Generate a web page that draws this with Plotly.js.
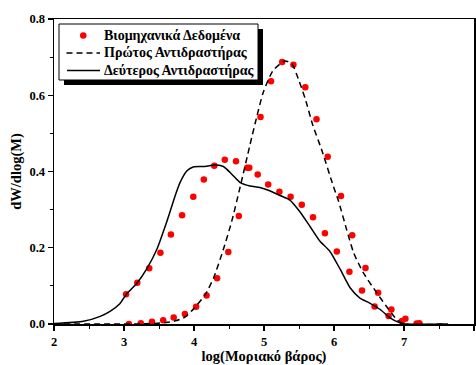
<!DOCTYPE html>
<html>
<head>
<meta charset="utf-8">
<script src="https://cdn.plot.ly/plotly-3.0.1.min.js"></script>
<style>html,body{margin:0;padding:0;background:#fff;}#chart{width:476px;height:365px;}</style>
</head>
<body>
<div id="chart"></div>
<script>
// Industrial data (two sampled distributions)
const industrialX1 = [3.03, 3.19, 3.36, 3.52, 3.67, 3.83, 3.99, 4.14, 4.29, 4.44, 4.60, 4.76, 4.91, 5.06, 5.22, 5.38, 5.54, 5.70, 5.87, 6.04, 6.22, 6.40, 6.58, 6.78, 6.97, 7.18];
const industrialY1 = [0.078, 0.108, 0.146, 0.187, 0.235, 0.285, 0.334, 0.379, 0.415, 0.431, 0.427, 0.410, 0.392, 0.366, 0.347, 0.334, 0.313, 0.280, 0.238, 0.190, 0.137, 0.088, 0.046, 0.021, 0.008, 0.001];
const industrialX2 = [3.07, 3.24, 3.40, 3.56, 3.71, 3.87, 4.03, 4.18, 4.33, 4.49, 4.64, 4.79, 4.95, 5.10, 5.26, 5.42, 5.59, 5.75, 5.91, 6.10, 6.26, 6.45, 6.63, 6.82, 7.02, 7.22];
const industrialY2 = [0.000, 0.002, 0.006, 0.010, 0.017, 0.026, 0.045, 0.075, 0.120, 0.189, 0.283, 0.410, 0.543, 0.637, 0.687, 0.680, 0.621, 0.537, 0.439, 0.336, 0.233, 0.147, 0.082, 0.038, 0.014, 0.002];

// First reactor (dashed)
const firstX = [2.0, 3.0, 3.37, 3.6, 3.75, 3.87, 3.99, 4.16, 4.28, 4.42, 4.54, 4.66, 4.80, 4.90, 4.99, 5.13, 5.30, 5.40, 5.49, 5.59, 5.70, 5.82, 5.99, 6.06, 6.18, 6.28, 6.42, 6.61, 6.75, 6.90, 7.0, 7.6];
const firstY = [0.0, 0.0, 0.001, 0.004, 0.009, 0.018, 0.039, 0.077, 0.121, 0.196, 0.270, 0.360, 0.470, 0.546, 0.608, 0.665, 0.690, 0.682, 0.643, 0.590, 0.520, 0.459, 0.362, 0.325, 0.248, 0.187, 0.134, 0.082, 0.046, 0.011, 0.0, 0.0];

// Second reactor (solid)
const secondX = [2.0, 2.42, 2.66, 2.80, 2.94, 3.03, 3.19, 3.32, 3.47, 3.59, 3.66, 3.73, 3.80, 3.90, 3.99, 4.13, 4.32, 4.42, 4.54, 4.66, 4.80, 4.94, 5.09, 5.23, 5.37, 5.51, 5.66, 5.80, 5.94, 6.09, 6.23, 6.37, 6.51, 6.66, 6.80, 6.94, 7.03, 7.63];
const secondY = [0.001, 0.007, 0.020, 0.033, 0.053, 0.077, 0.108, 0.143, 0.196, 0.257, 0.296, 0.336, 0.371, 0.402, 0.412, 0.413, 0.417, 0.413, 0.393, 0.371, 0.362, 0.358, 0.349, 0.337, 0.325, 0.295, 0.255, 0.217, 0.191, 0.143, 0.095, 0.068, 0.055, 0.038, 0.016, 0.003, 0.0, 0.0];

const names = ["Βιομηχανικά Δεδομένα", "Πρώτος Αντιδραστήρας", "Δεύτερος Αντιδραστήρας"];
const xTickVals = [2, 3, 4, 5, 6, 7, 8];
const xTickLabels = ["2", "3", "4", "5", "6", "7", "8"];
const yTickVals = [0, 0.2, 0.4, 0.6, 0.8];
const yTickLabels = ["0.0", "0.2", "0.4", "0.6", "0.8"];
const xTitle = "log(Μοριακό βάρος)";
const yTitle = "dW/dlog(M)";

const serif = "Liberation Serif";
const dashPattern = "6px,4px";
const b = s => "<b>" + s + "</b>";

const traces = [
  {x: industrialX1.concat(industrialX2), y: industrialY1.concat(industrialY2), mode: "markers", type: "scatter", name: names[0],
   marker: {color: "#ff0000", size: 6.5}},
  {x: firstX, y: firstY, mode: "lines", type: "scatter", name: names[1],
   line: {color: "#000", width: 1.5, dash: dashPattern, shape: "spline", smoothing: 0.6}},
  {x: secondX, y: secondY, mode: "lines", type: "scatter", name: names[2],
   line: {color: "#000", width: 1.5, shape: "spline", smoothing: 0.6}}
];

// pixel -> paper helpers (plot area: x 54..474, y 19..324)
const px = v => (v - 54) / 420;
const py = v => (324 - v) / 305;

// legend geometry (pixels)
const box = {l: 59, r: 258, t: 24, b: 80};
const rowsY = [35.5, 53, 70.5];
const legendFont = {family: serif, size: 14, color: "#000"};

const shapes = [
  {type: "rect", xref: "paper", yref: "paper", x0: px(box.l + 5), x1: px(box.r + 5), y0: py(box.b + 5), y1: py(box.t + 5), fillcolor: "#000", line: {width: 0}, layer: "above"},
  {type: "rect", xref: "paper", yref: "paper", x0: px(box.l), x1: px(box.r), y0: py(box.b), y1: py(box.t), fillcolor: "#fff", line: {width: 1, color: "#000"}, layer: "above"},
  {type: "circle", xref: "paper", yref: "paper", x0: px(80), x1: px(86.5), y0: py(rowsY[0] + 3.25), y1: py(rowsY[0] - 3.25), fillcolor: "#ff0000", line: {width: 0}, layer: "above"},
  {type: "line", xref: "paper", yref: "paper", x0: px(66.5), x1: px(100), y0: py(rowsY[1]), y1: py(rowsY[1]), line: {width: 1.5, color: "#000", dash: dashPattern}, layer: "above"},
  {type: "line", xref: "paper", yref: "paper", x0: px(67), x1: px(100), y0: py(rowsY[2]), y1: py(rowsY[2]), line: {width: 1.5, color: "#000"}, layer: "above"}
];
const annotations = names.map((n, i) => ({
  text: b(n), xref: "paper", yref: "paper", x: px(102), y: py(rowsY[i]), xanchor: "left", yanchor: "middle", showarrow: false, font: legendFont
}));

const layout = {
  width: 476, height: 365,
  margin: {l: 54, r: 2, t: 19, b: 41},
  paper_bgcolor: "#fff", plot_bgcolor: "#fff",
  showlegend: false,
  shapes: shapes,
  annotations: annotations,
  xaxis: {range: [2, 8], tickmode: "array", tickvals: xTickVals, ticktext: xTickLabels.map(b), showgrid: false, zeroline: false, showline: true, linecolor: "#000", linewidth: 1.5, mirror: true,
    ticks: "outside", ticklen: 5, tickwidth: 1.2, tickcolor: "#000",
    minor: {dtick: 0.5, tick0: 2, ticks: "outside", ticklen: 3, tickwidth: 1, tickcolor: "#000"},
    tickfont: {family: serif, size: 12.5, color: "#000"},
    title: {text: b(xTitle), font: {family: serif, size: 14.5, color: "#000"}, standoff: 2}},
  yaxis: {range: [0, 0.8], tickmode: "array", tickvals: yTickVals, ticktext: yTickLabels.map(b), showgrid: false, zeroline: false, showline: true, linecolor: "#000", linewidth: 1.5, mirror: true,
    ticks: "outside", ticklen: 5, tickwidth: 1.2, tickcolor: "#000",
    minor: {dtick: 0.1, tick0: 0, ticks: "outside", ticklen: 3, tickwidth: 1, tickcolor: "#000"},
    tickfont: {family: serif, size: 12.5, color: "#000"},
    title: {text: b(yTitle), font: {family: serif, size: 14.5, color: "#000"}, standoff: 4}}
};

Plotly.newPlot("chart", traces, layout, {displayModeBar: false, staticPlot: true});
</script>
</body>
</html>
